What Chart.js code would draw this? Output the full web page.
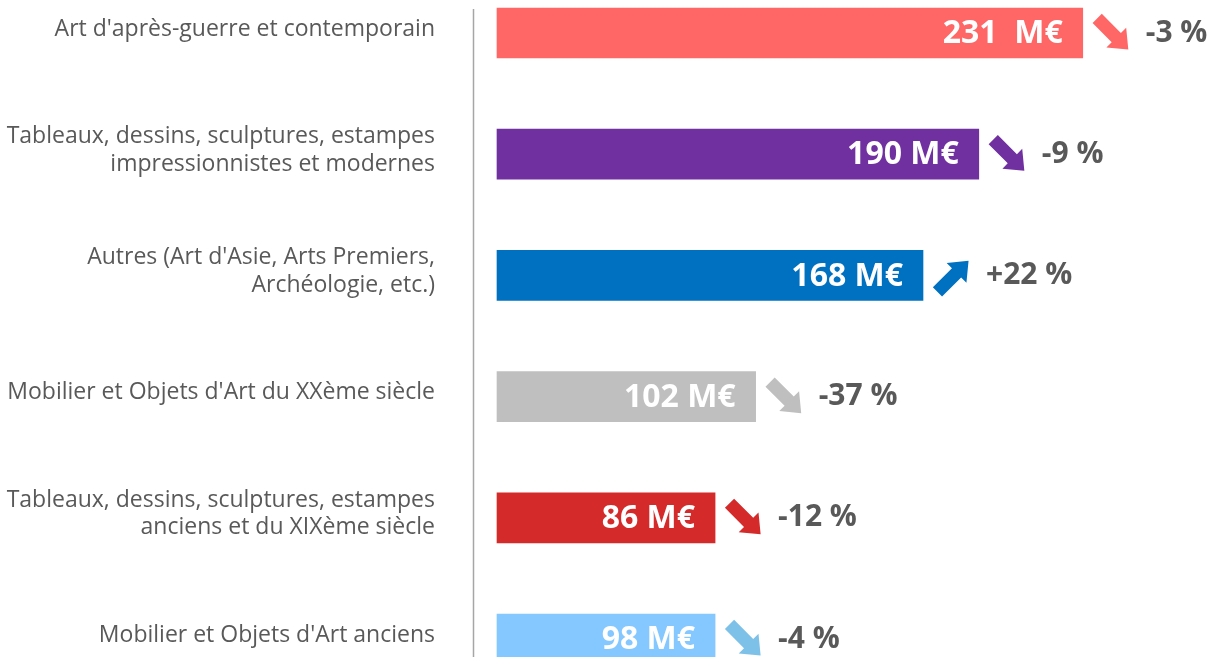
<!DOCTYPE html>
<html>
<head>
<meta charset="utf-8">
<script src="https://cdn.jsdelivr.net/npm/chart.js@4.4.1/dist/chart.umd.min.js"></script>
<style>
  html, body { margin: 0; padding: 0; background: #ffffff; overflow: hidden; }
  #wrap { position: relative; width: 1217px; height: 657px; }
</style>
</head>
<body>
<div id="wrap"><canvas id="c" width="1217" height="657"></canvas></div>
<script>
// ---- Data ----
const categories = [
  "Art d'après-guerre et contemporain",
  ["Tableaux, dessins, sculptures, estampes", "impressionnistes et modernes"],
  ["Autres (Art d'Asie, Arts Premiers,", "Archéologie, etc.)"],
  "Mobilier et Objets d'Art du XXème siècle",
  ["Tableaux, dessins, sculptures, estampes", "anciens et du XIXème siècle"],
  "Mobilier et Objets d'Art anciens"
];
// bar lengths as drawn in the source picture (M€)
const barValues = [231, 190, 168, 102, 86, 86];
// value labels printed inside the bars
const valueLabels = ["231  M€", "190 M€", "168 M€", "102 M€", "86 M€", "98 M€"];
// year-on-year change (%)
const changeValues = [-3, -9, 22, -37, -12, -4];
const changeLabels = ["-3 %", "-9 %", "+22 %", "-37 %", "-12 %", "-4 %"];
const barColors = ["#FF6666", "#7030A0", "#0070C0", "#BFBFBF", "#D42A2A", "#85C8FF"];
const arrowColors = ["#FF6666", "#7030A0", "#0070C0", "#BFBFBF", "#D42A2A", "#7DC1E8"];

const FONT = "'Open Sans', 'Noto Sans', sans-serif";

function drawArrow(ctx, cx, cy, up, color) {
  const L = 44, sh = 6.5, hh = 14, hl = 17;
  ctx.save();
  ctx.translate(cx, cy);
  ctx.rotate(up ? -Math.PI / 4 : Math.PI / 4);
  ctx.beginPath();
  ctx.moveTo(-L / 2, -sh);
  ctx.lineTo(L / 2 - hl, -sh);
  ctx.lineTo(L / 2 - hl, -hh);
  ctx.lineTo(L / 2, 0);
  ctx.lineTo(L / 2 - hl, hh);
  ctx.lineTo(L / 2 - hl, sh);
  ctx.lineTo(-L / 2, sh);
  ctx.closePath();
  ctx.fillStyle = color;
  ctx.fill();
  ctx.restore();
}

const axisLinePlugin = {
  id: 'axisLine',
  beforeDatasetsDraw(chart) {
    const { ctx, chartArea } = chart;
    const x = Math.round(chartArea.left - 24) + 0.5;
    ctx.save();
    ctx.strokeStyle = '#A6A6A6';
    ctx.lineWidth = 1.5;
    ctx.beginPath();
    ctx.moveTo(x, 9);
    ctx.lineTo(x, chart.height);
    ctx.stroke();
    ctx.restore();
  }
};

const annotatePlugin = {
  id: 'annotate',
  afterDatasetsDraw(chart) {
    const { ctx } = chart;
    const meta = chart.getDatasetMeta(0);
    meta.data.forEach((bar, i) => {
      const xEnd = bar.x, yc = bar.y;
      ctx.save();
      ctx.font = "bold 32px " + FONT;
      ctx.fillStyle = '#FFFFFF';
      ctx.textAlign = 'right';
      ctx.textBaseline = 'middle';
      ctx.fillText(valueLabels[i], xEnd - 20, yc + 1);
      drawArrow(ctx, xEnd + 30, yc + 1, changeValues[i] > 0, arrowColors[i]);
      ctx.font = "bold 30px " + FONT;
      ctx.fillStyle = '#595959';
      ctx.textAlign = 'left';
      ctx.fillText(changeLabels[i], xEnd + 63, yc);
      ctx.restore();
    });
  }
};

function make() {
  new Chart(document.getElementById('c'), {
    type: 'bar',
    data: {
      labels: categories,
      datasets: [{
        data: barValues,
        backgroundColor: barColors,
        borderWidth: 0,
        barThickness: 50,
        clip: false
      }]
    },
    options: {
      indexAxis: 'y',
      responsive: false,
      animation: false,
      devicePixelRatio: 1,
      layout: { padding: { top: 33, bottom: 18, right: 10, left: 0 } },
      plugins: { legend: { display: false }, tooltip: { enabled: false } },
      scales: {
        x: { display: false, min: 0, max: 280 },
        y: {
          type: 'category',
          offset: false,
          grid: { display: true, color: 'rgba(0,0,0,0)', drawOnChartArea: false, drawTicks: true, tickLength: 62, offset: false },
          border: { display: false },
          afterFit(scale) { scale.width = 497; },
          ticks: {
            color: '#595959',
            font: { family: FONT, size: 23, lineHeight: 1.2 },
            padding: 0,
            labelOffset: -4,
            autoSkip: false
          }
        }
      }
    },
    plugins: [axisLinePlugin, annotatePlugin]
  });
}

if (document.fonts && document.fonts.load) {
  Promise.all([
    document.fonts.load("23px 'Open Sans'"),
    document.fonts.load("bold 32px 'Open Sans'")
  ]).then(make, make);
} else {
  make();
}
</script>
</body>
</html>
